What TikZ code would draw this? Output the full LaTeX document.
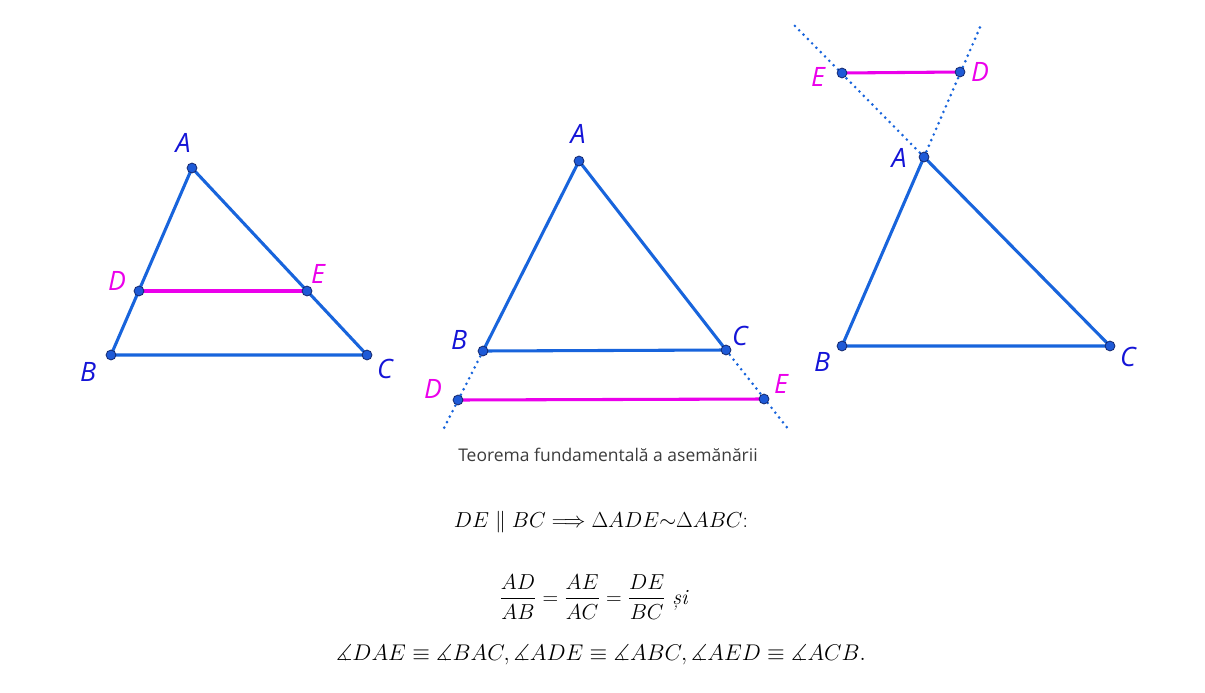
\documentclass[tikz,border=0pt]{standalone}
\usepackage{amsmath,amssymb}
\usepackage{fontspec}
\newfontfamily\labfont{Open Sans}
\newfontfamily\capfont{Open Sans}
\definecolor{geoblue}{RGB}{24,100,220}
\definecolor{labblue}{RGB}{20,20,215}
\definecolor{geomag}{RGB}{235,0,235}
\definecolor{ptfill}{RGB}{30,90,215}
\definecolor{ptdraw}{RGB}{20,40,110}
\definecolor{capgray}{RGB}{60,60,60}
\tikzset{
  seg/.style={geoblue, line width=2.3pt, line cap=round},
  magseg/.style={geomag, line width=2.3pt, line cap=round},
  dotline/.style={geoblue, line width=2.2pt, line cap=round, dash pattern=on 0pt off 4.6pt},
  pt/.style={circle, fill=ptfill, draw=ptdraw, line width=0.6pt, inner sep=0pt, minimum size=7.4pt},
  lab/.style={font=\labfont\itshape\fontsize{20}{22}\selectfont, text=labblue, inner sep=0pt},
  mlab/.style={font=\labfont\itshape\fontsize{20}{22}\selectfont, text=geomag, inner sep=0pt},
  formula/.style={font=\fontsize{17.28}{20}\selectfont, inner sep=0pt}
}
\begin{document}
\begin{tikzpicture}[x=0.75pt,y=-0.75pt]
\useasboundingbox[fill=white] (0,0) rectangle (1205,692);
% ---- triangle 1
\coordinate (A1) at (192,168);
\coordinate (B1) at (111,355);
\coordinate (C1) at (367,355);
\coordinate (D1) at (139,291);
\coordinate (E1) at (307,291);
\draw[seg] (A1) -- (B1) -- (C1) -- cycle;
\draw[magseg] (D1) -- (E1);
% ---- triangle 2
\coordinate (A2) at (579,161);
\coordinate (B2) at (483,351);
\coordinate (C2) at (726,350);
\coordinate (D2) at (458,400);
\coordinate (E2) at (764,399);
\coordinate (T2l) at (443,430);
\coordinate (T2r) at (789,430);
\draw[dotline] (B2) -- (T2l);
\draw[dotline] (C2) -- (T2r);
\draw[seg] (A2) -- (B2) -- (C2) -- cycle;
\draw[magseg] (D2) -- (E2);
% ---- triangle 3
\coordinate (A3) at (924,157);
\coordinate (B3) at (842,346);
\coordinate (C3) at (1110,346);
\coordinate (E3) at (842,73);
\coordinate (D3) at (960,72);
\coordinate (T3l) at (794,25);
\coordinate (T3r) at (981,25);
\draw[dotline] (A3) -- (T3l);
\draw[dotline] (A3) -- (T3r);
\draw[seg] (A3) -- (B3) -- (C3) -- cycle;
\draw[magseg] (E3) -- (D3);
% ---- points
\foreach \p in {A1,B1,C1,D1,E1,A2,B2,C2,D2,E2,A3,B3,C3,D3,E3}
  \node[pt] (p\p) at (\p) {};
% ---- labels
\node[lab] (lA1) at (183,143) {A};
\node[lab] (lB1) at (88,372) {B};
\node[lab] (lC1) at (385,369) {C};
\node[mlab] (lD1) at (117,281) {D};
\node[mlab] (lE1) at (318,274) {E};
\node[lab] (lA2) at (578,134) {A};
\node[lab] (lB2) at (459,340) {B};
\node[lab] (lC2) at (740,336) {C};
\node[mlab] (lD2) at (433,389) {D};
\node[mlab] (lE2) at (781,384) {E};
\node[lab] (lA3) at (899,158) {A};
\node[lab] (lB3) at (822,362) {B};
\node[lab] (lC3) at (1128,357) {C};
\node[mlab] (lE3) at (818,77) {E};
\node[mlab] (lD3) at (980,72) {D};
% ---- caption
\node[font=\capfont\fontsize{13.1}{15}\selectfont, text=capgray, inner sep=0pt] (cap) at (608,455) {Teorema fundamentală a asemănării};
% ---- formulas
\node[formula] (f1) at (601,522) {\scalebox{0.94}{$DE\parallel BC\Longrightarrow \Delta ADE{\sim}\Delta ABC$:}};
\node[formula] (f2) at (594,597) {\scalebox{0.94}{$\dfrac{AD}{AB}=\dfrac{AE}{AC}=\dfrac{DE}{BC}$ \textit{și}}};
\node[formula] (f3) at (601,655) {\scalebox{0.985}{$\measuredangle DAE\equiv\measuredangle BAC,\measuredangle ADE\equiv\measuredangle ABC,\measuredangle AED\equiv\measuredangle ACB.$}};
\end{tikzpicture}
\end{document}
